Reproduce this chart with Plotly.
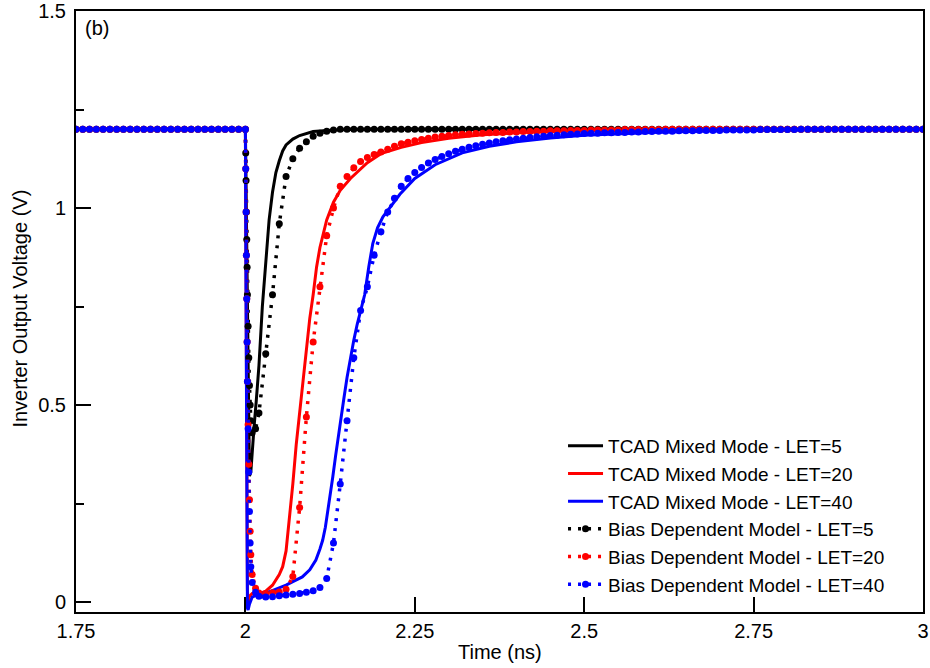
import plotly.graph_objects as go

# ---------------------------------------------------------------------------
# Single-event transient at the inverter output (strike at t = 2 ns)
# ---------------------------------------------------------------------------

# TCAD mixed-mode simulation, LET = 5
T_TCAD_5 = [1.75, 2.0, 2.001, 2.002, 2.003, 2.004, 2.005, 2.006, 2.008, 2.01,
            2.013, 2.016, 2.02, 2.025, 2.03, 2.035, 2.04, 2.045, 2.05, 2.055,
            2.06, 2.07, 2.08, 2.09, 2.1, 2.12, 2.15, 2.2, 3.0]
V_TCAD_5 = [1.2, 1.2, 1.05, 0.88, 0.70, 0.54, 0.40, 0.32, 0.33, 0.39,
            0.45, 0.51, 0.60, 0.75, 0.87, 0.97, 1.04, 1.09, 1.12, 1.145,
            1.16, 1.175, 1.184, 1.19, 1.194, 1.197, 1.199, 1.2, 1.2]

# TCAD mixed-mode simulation, LET = 20
T_TCAD_20 = [1.75, 2.0, 2.0005, 2.001, 2.0015, 2.002, 2.0025, 2.003, 2.004, 2.006,
             2.01, 2.02, 2.03, 2.04, 2.05, 2.055, 2.06, 2.063, 2.066, 2.07,
             2.075, 2.08, 2.085, 2.09, 2.095, 2.1, 2.105, 2.11, 2.12, 2.13,
             2.14, 2.155, 2.18, 2.2, 2.23, 2.26, 2.3, 2.35, 2.4, 2.45,
             2.5, 2.6, 2.7, 3.0]
V_TCAD_20 = [1.2, 1.2, 1.0, 0.75, 0.5, 0.28, 0.12, 0.03, 0.0, 0.015,
             0.022, 0.021, 0.028, 0.043, 0.07, 0.09, 0.13, 0.18, 0.24, 0.30,
             0.40, 0.48, 0.57, 0.65, 0.72, 0.78, 0.85, 0.90, 0.97, 1.015,
             1.045, 1.075, 1.115, 1.138, 1.154, 1.166, 1.177, 1.186, 1.191, 1.194,
             1.196, 1.198, 1.2, 1.2]

# TCAD mixed-mode simulation, LET = 40
T_TCAD_40 = [1.75, 2.0, 2.0005, 2.001, 2.0015, 2.002, 2.0025, 2.003, 2.004, 2.006,
             2.01, 2.02, 2.035, 2.05, 2.06, 2.07, 2.084, 2.095, 2.104, 2.11,
             2.114, 2.118, 2.122, 2.126, 2.129, 2.133, 2.136, 2.14, 2.145, 2.15,
             2.155, 2.16, 2.165, 2.17, 2.176, 2.182, 2.188, 2.195, 2.203, 2.218,
             2.228, 2.25, 2.28, 2.32, 2.36, 2.4, 2.45, 2.5, 2.6, 2.7,
             2.8, 2.9, 3.0]
V_TCAD_40 = [1.2, 1.2, 0.95, 0.65, 0.38, 0.15, 0.02, -0.015, -0.02, -0.005,
             0.013, 0.02, 0.026, 0.036, 0.043, 0.052, 0.064, 0.082, 0.107, 0.135,
             0.157, 0.19, 0.234, 0.28, 0.318, 0.37, 0.403, 0.45, 0.513, 0.57,
             0.62, 0.665, 0.705, 0.74, 0.78, 0.85, 0.91, 0.95, 0.978, 1.012,
             1.035, 1.075, 1.11, 1.14, 1.157, 1.168, 1.178, 1.185, 1.192, 1.196,
             1.198, 1.2, 1.2]

# Sampling instants of the bias-dependent compact model (shared by all LETs)
T_BIAS = [1.75, 1.76, 1.77, 1.78, 1.79, 1.80, 1.81, 1.82, 1.83, 1.84,
          1.85, 1.86, 1.87, 1.88, 1.89, 1.90, 1.91, 1.92, 1.93, 1.94,
          1.95, 1.96, 1.97, 1.98, 1.99,
          2.0, 2.0005, 2.001, 2.0015, 2.002, 2.0025, 2.003, 2.004, 2.005, 2.006,
          2.007, 2.008, 2.01, 2.015,
          2.02, 2.03, 2.04, 2.05, 2.06, 2.07, 2.08, 2.09, 2.10, 2.11,
          2.12, 2.13, 2.14, 2.15, 2.16, 2.17, 2.18, 2.19, 2.20, 2.21,
          2.22, 2.23, 2.24, 2.25, 2.26, 2.27, 2.28, 2.29, 2.30, 2.31,
          2.32, 2.33, 2.34, 2.35, 2.36, 2.37, 2.38, 2.39, 2.40, 2.41,
          2.42, 2.43, 2.44, 2.45, 2.46, 2.47, 2.48, 2.49, 2.50, 2.51,
          2.52, 2.53, 2.54, 2.55, 2.56, 2.57, 2.58, 2.59, 2.60, 2.61,
          2.62, 2.63, 2.64, 2.65, 2.66, 2.67, 2.68, 2.69, 2.70, 2.71,
          2.72, 2.73, 2.74, 2.75, 2.76, 2.77, 2.78, 2.79, 2.80, 2.81,
          2.82, 2.83, 2.84, 2.85, 2.86, 2.87, 2.88, 2.89, 2.90, 2.91,
          2.92, 2.93, 2.94, 2.95, 2.96, 2.97, 2.98, 2.99, 3.00]

# Bias-dependent model, LET = 5
V_BIAS_5 = [1.2, 1.2, 1.2, 1.2, 1.2, 1.2, 1.2, 1.2, 1.2, 1.2,
            1.2, 1.2, 1.2, 1.2, 1.2, 1.2, 1.2, 1.2, 1.2, 1.2,
            1.2, 1.2, 1.2, 1.2, 1.2,
            1.2, 1.14, 1.07, 0.99, 0.92, 0.85, 0.78, 0.70, 0.62, 0.55,
            0.50, 0.46, 0.43, 0.44,
            0.48, 0.63, 0.78, 0.96, 1.08, 1.125, 1.152, 1.168, 1.182, 1.19,
            1.195, 1.198, 1.2, 1.2, 1.2, 1.2, 1.2, 1.2, 1.2, 1.2,
            1.2, 1.2, 1.2, 1.2, 1.2, 1.2, 1.2, 1.2, 1.2, 1.2,
            1.2, 1.2, 1.2, 1.2, 1.2, 1.2, 1.2, 1.2, 1.2, 1.2,
            1.2, 1.2, 1.2, 1.2, 1.2, 1.2, 1.2, 1.2, 1.2, 1.2,
            1.2, 1.2, 1.2, 1.2, 1.2, 1.2, 1.2, 1.2, 1.2, 1.2,
            1.2, 1.2, 1.2, 1.2, 1.2, 1.2, 1.2, 1.2, 1.2, 1.2,
            1.2, 1.2, 1.2, 1.2, 1.2, 1.2, 1.2, 1.2, 1.2, 1.2,
            1.2, 1.2, 1.2, 1.2, 1.2, 1.2, 1.2, 1.2, 1.2, 1.2,
            1.2, 1.2, 1.2, 1.2, 1.2, 1.2, 1.2, 1.2, 1.2]

# Bias-dependent model, LET = 20
V_BIAS_20 = [1.2, 1.2, 1.2, 1.2, 1.2, 1.2, 1.2, 1.2, 1.2, 1.2,
             1.2, 1.2, 1.2, 1.2, 1.2, 1.2, 1.2, 1.2, 1.2, 1.2,
             1.2, 1.2, 1.2, 1.2, 1.2,
             1.2, 1.10, 0.99, 0.88, 0.77, 0.66, 0.56, 0.45, 0.35, 0.26,
             0.18, 0.12, 0.07, 0.035,
             0.023, 0.022, 0.024, 0.026, 0.033, 0.065, 0.24, 0.47, 0.66, 0.80,
             0.93, 1.0, 1.055, 1.08, 1.102, 1.118, 1.128, 1.136, 1.142, 1.149,
             1.157, 1.163, 1.167, 1.171, 1.174, 1.177, 1.18, 1.182, 1.184, 1.186,
             1.187, 1.188, 1.189, 1.19, 1.191, 1.192, 1.192, 1.193, 1.193, 1.194,
             1.194, 1.195, 1.195, 1.196, 1.196, 1.196, 1.197, 1.197, 1.197, 1.198,
             1.198, 1.198, 1.198, 1.198, 1.199, 1.199, 1.199, 1.199, 1.199, 1.199,
             1.2, 1.2, 1.2, 1.2, 1.2, 1.2, 1.2, 1.2, 1.2, 1.2,
             1.2, 1.2, 1.2, 1.2, 1.2, 1.2, 1.2, 1.2, 1.2, 1.2,
             1.2, 1.2, 1.2, 1.2, 1.2, 1.2, 1.2, 1.2, 1.2, 1.2,
             1.2, 1.2, 1.2, 1.2, 1.2, 1.2, 1.2, 1.2, 1.2]

# Bias-dependent model, LET = 40
V_BIAS_40 = [1.2, 1.2, 1.2, 1.2, 1.2, 1.2, 1.2, 1.2, 1.2, 1.2,
             1.2, 1.2, 1.2, 1.2, 1.2, 1.2, 1.2, 1.2, 1.2, 1.2,
             1.2, 1.2, 1.2, 1.2, 1.2,
             1.2, 1.10, 0.99, 0.88, 0.77, 0.66, 0.56, 0.44, 0.33, 0.23,
             0.15, 0.09, 0.05, 0.025,
             0.015, 0.013, 0.014, 0.016, 0.018, 0.020, 0.022, 0.025, 0.029, 0.037,
             0.06, 0.15, 0.30, 0.46, 0.62, 0.74, 0.80, 0.88, 0.94, 0.99,
             1.025, 1.055, 1.075, 1.09, 1.103, 1.114, 1.123, 1.131, 1.138, 1.144,
             1.149, 1.154, 1.158, 1.162, 1.165, 1.168, 1.171, 1.173, 1.175, 1.177,
             1.179, 1.181, 1.182, 1.184, 1.185, 1.186, 1.187, 1.188, 1.189, 1.19,
             1.19, 1.191, 1.191, 1.192, 1.192, 1.193, 1.193, 1.194, 1.194, 1.195,
             1.195, 1.195, 1.196, 1.196, 1.196, 1.197, 1.197, 1.197, 1.197, 1.198,
             1.198, 1.198, 1.198, 1.198, 1.199, 1.199, 1.199, 1.199, 1.199, 1.199,
             1.2, 1.2, 1.2, 1.2, 1.2, 1.2, 1.2, 1.2, 1.2, 1.2,
             1.2, 1.2, 1.2, 1.2, 1.2, 1.2, 1.2, 1.2, 1.2]

for series in (V_BIAS_5, V_BIAS_20, V_BIAS_40):
    assert len(series) == len(T_BIAS), (len(series), len(T_BIAS))

X_TICKS = [1.75, 2.0, 2.25, 2.5, 2.75, 3.0]
X_TICK_TEXT = ["1.75", "2", "2.25", "2.5", "2.75", "3"]
Y_TICKS = [0.0, 0.5, 1.0, 1.5]
Y_TICK_TEXT = ["0", "0.5", "1", "1.5"]

FONT = "Liberation Sans, Arial, Helvetica, sans-serif"
COLORS = {"5": "#000000", "20": "#ff0000", "40": "#0000ff"}

fig = go.Figure()

for let, t, v in (("5", T_TCAD_5, V_TCAD_5),
                  ("20", T_TCAD_20, V_TCAD_20),
                  ("40", T_TCAD_40, V_TCAD_40)):
    fig.add_trace(go.Scatter(
        x=t, y=v, mode="lines",
        name=f"TCAD Mixed Mode - LET={let}",
        line=dict(color=COLORS[let], width=3),
    ))

for let, v in (("5", V_BIAS_5), ("20", V_BIAS_20), ("40", V_BIAS_40)):
    fig.add_trace(go.Scatter(
        x=T_BIAS, y=v, mode="lines+markers",
        name=f"Bias Dependent Model - LET={let}",
        line=dict(color=COLORS[let], width=3.5, dash="3px,7px"),
        marker=dict(color=COLORS[let], size=7, symbol="circle"),
    ))

axis_common = dict(
    showline=True, linecolor="black", linewidth=2, mirror=True,
    ticks="inside", ticklen=15, tickwidth=2, tickcolor="black",
    showgrid=False, zeroline=False, automargin=False,
    tickfont=dict(family=FONT, size=20, color="black"),
)

fig.update_xaxes(range=[1.75, 3.0], tickvals=X_TICKS, ticktext=X_TICK_TEXT,
                 **axis_common)
fig.update_yaxes(range=[-0.025, 1.5], tickvals=Y_TICKS, ticktext=Y_TICK_TEXT,
                 ticklabelstandoff=4,
                 minor=dict(dtick=0.25, tick0=0, ticks="inside", ticklen=8,
                            tickwidth=2, tickcolor="black", showgrid=False),
                 **axis_common)

fig.update_layout(
    width=930, height=668,
    margin=dict(l=76, r=7, t=11, b=56, autoexpand=False),
    paper_bgcolor="white", plot_bgcolor="white",
    font=dict(family=FONT, size=20, color="black"),
    showlegend=True,
    legend=dict(
        x=0.575, xanchor="left", y=0.308, yanchor="top",
        bgcolor="rgba(0,0,0,0)", borderwidth=0,
        font=dict(family=FONT, size=19, color="black"),
        itemwidth=35, tracegroupgap=0,
    ),
    annotations=[
        dict(text="Time (ns)", xref="paper", yref="paper", x=0.5, y=-0.066,
             xanchor="center", yanchor="middle", showarrow=False,
             font=dict(family=FONT, size=20, color="black")),
        dict(text="Inverter Output Voltage (V)", xref="paper", yref="paper",
             x=-0.066, y=0.505, xanchor="center", yanchor="middle",
             textangle=-90, showarrow=False,
             font=dict(family=FONT, size=20, color="black")),
        dict(text="(b)", xref="paper", yref="paper", x=0.008, y=0.972,
             xanchor="left", yanchor="middle", showarrow=False,
             font=dict(family=FONT, size=20, color="black")),
    ],
)

fig.write_html("out.html")
